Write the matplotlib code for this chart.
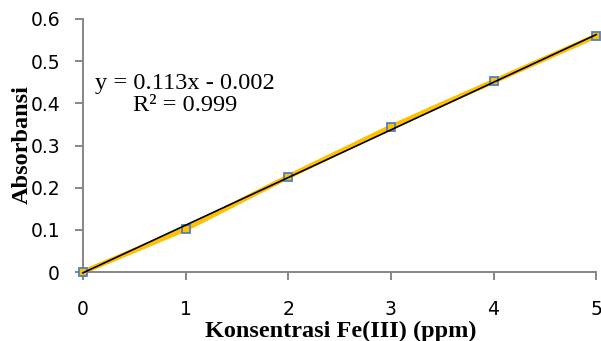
import matplotlib
matplotlib.use("Agg")
import matplotlib.pyplot as plt
import numpy as np

# data
konsentrasi = [0, 1, 2, 3, 4, 5]
absorbansi = [0.0, 0.102, 0.226, 0.344, 0.452, 0.560]
slope = 0.113
intercept = -0.002
r_squared = 0.999
x_ticks = [0, 1, 2, 3, 4, 5]
y_ticks = [0, 0.1, 0.2, 0.3, 0.4, 0.5, 0.6]
y_tick_labels = ["0", "0.1", "0.2", "0.3", "0.4", "0.5", "0.6"]

fig = plt.figure(figsize=(6.01, 3.41), dpi=100)
ax = fig.add_axes([0.138, 0.2023, 0.854, 0.742])

ax.plot(konsentrasi, absorbansi, color="#FFC000", linewidth=3.6, zorder=2,
        solid_capstyle="round")
ax.plot(konsentrasi, absorbansi, linestyle="none", marker="s", markersize=5.5,
        markerfacecolor="#FFC000", markeredgecolor="#4F81BD", markeredgewidth=1.3,
        zorder=3, clip_on=False)
xfit = np.array([konsentrasi[0], konsentrasi[-1]])
ax.plot(xfit, slope * xfit + intercept, color="black", linewidth=1.2, zorder=4,
        clip_on=False)

ax.set_xlim(0, 5)
ax.set_ylim(0, 0.6)
ax.set_xticks(x_ticks)
ax.set_yticks(y_ticks)
ax.set_yticklabels(y_tick_labels)
for side in ["top", "right"]:
    ax.spines[side].set_visible(False)
for side in ["left", "bottom"]:
    ax.spines[side].set_color("#868686")
    ax.spines[side].set_linewidth(1.4)
ax.tick_params(axis="both", direction="out", length=5.5, width=1.4, color="#868686",
               labelsize=13.5)
ax.tick_params(axis="x", pad=15)
ax.tick_params(axis="y", pad=11)
for lbl in ax.get_xticklabels() + ax.get_yticklabels():
    lbl.set_fontfamily("DejaVu Sans")

# axis titles placed in figure coords, they overlap tick labels as in the original
fig.text(0.567, 0.012, "Konsentrasi Fe(III) (ppm)", fontfamily="Liberation Serif",
         fontweight="bold", fontsize=17.5, ha="center", va="baseline")
fig.text(0.037, 0.575, "Absorbansi", fontfamily="Liberation Serif",
         fontweight="bold", fontsize=17.5, ha="center", va="center", rotation=90)

fig.text(0.308, 0.722, f"y = {slope}x - {abs(intercept)}\nR² = {r_squared}",
         fontfamily="Liberation Serif", fontsize=17.6, ha="center", va="center",
         linespacing=1.05, multialignment="center")

fig.savefig("out.png", dpi=100)
